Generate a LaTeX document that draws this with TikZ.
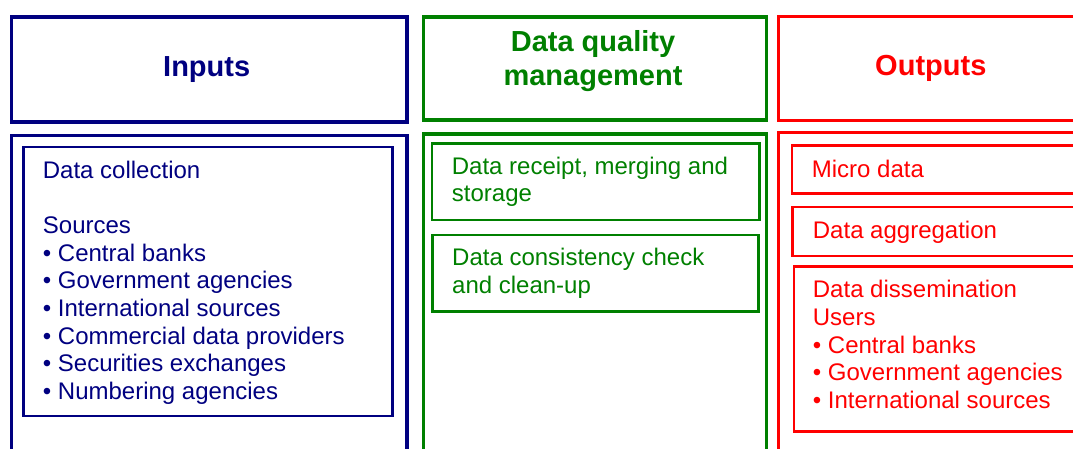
\documentclass[tikz,border=0pt]{standalone}
\usepackage{fontspec}
\setmainfont{Liberation Sans}
\definecolor{inblue}{RGB}{0,0,128}
\definecolor{dqgreen}{RGB}{0,128,0}
\definecolor{outred}{RGB}{255,0,0}
\tikzset{
  frame/.style={draw=#1, line width=3.8pt, rectangle, inner sep=0pt, anchor=north west},
  subframe/.style={draw=#1, line width=2.6pt, rectangle, inner sep=0pt, anchor=north west},
  head/.style={text=#1, font=\fontsize{29}{34}\selectfont\bfseries, align=center, inner sep=0pt},
  body/.style={text=#1, font=\fontsize{24}{27.6}\selectfont, align=left, anchor=base west, inner sep=0pt},
}
\begin{document}
\begin{tikzpicture}[x=1pt, y=-1pt]
    \clip (0,0) rectangle (1073,448);
    % header boxes
    \node[frame=inblue, minimum width=395.5pt, minimum height=105pt] (inhead) at (9.5, 15) {};
    \node[frame=dqgreen, minimum width=343pt, minimum height=103pt] (dqhead) at (421.5, 15) {};
    \node[frame=outred, line width=3.4pt, minimum width=400pt, minimum height=104pt] (outhead) at (777, 14.5) {};
    \node[head=inblue] (intitle) at (206.7, 69.5) {Inputs};
    \node[head=dqgreen] (dqtitle) at (593, 60.6) {Data quality\\management};
    \node[head=outred] (outtitle) at (930.8, 68.5) {Outputs};
    % body boxes
    \node[frame=inblue, minimum width=395.5pt, minimum height=400pt] (inbody) at (9.5, 133.5) {};
    \node[frame=dqgreen, minimum width=343pt, minimum height=400pt] (dqbody) at (421.5, 132) {};
    \node[frame=outred, line width=3.4pt, minimum width=400pt, minimum height=400pt] (outbody) at (777, 130.5) {};
    \node[subframe=inblue, minimum width=369pt, minimum height=268.8pt] (collectbox) at (22, 145.7) {};
    \node[subframe=dqgreen, minimum width=327.5pt, minimum height=76.7pt] (receiptbox) at (430.5, 142) {};
    \node[subframe=dqgreen, minimum width=326pt, minimum height=76.6pt] (checkbox) at (431.3, 233.7) {};
    \node[subframe=outred, minimum width=400pt, minimum height=48pt] (microbox) at (790.7, 144) {};
    \node[subframe=outred, minimum width=400pt, minimum height=49pt] (aggrbox) at (791.3, 205.7) {};
    \node[subframe=outred, minimum width=400pt, minimum height=164.7pt] (dissbox) at (792.7, 265.3) {};
    % texts (base anchor sits on the last line)
    \node[body=inblue] (collect) at (42.7, 399.3) {Data collection\\[27.6pt]Sources\\• Central banks\\• Government agencies\\• International sources\\• Commercial data providers\\• Securities exchanges\\• Numbering agencies};
    \node[body=dqgreen] (receipt) at (451.7, 201.7) {Data receipt, merging and\\storage};
    \node[body=dqgreen] (check) at (452, 293.3) {Data consistency check\\and clean-up};
    \node[body=outred] (micro) at (811.7, 177.3) {Micro data};
    \node[body=outred] (aggr) at (812.7, 238.3) {Data aggregation};
    \node[body=outred] (diss) at (812.7, 408.3) {Data dissemination\\Users\\• Central banks\\• Government agencies\\• International sources};
\end{tikzpicture}
\end{document}
